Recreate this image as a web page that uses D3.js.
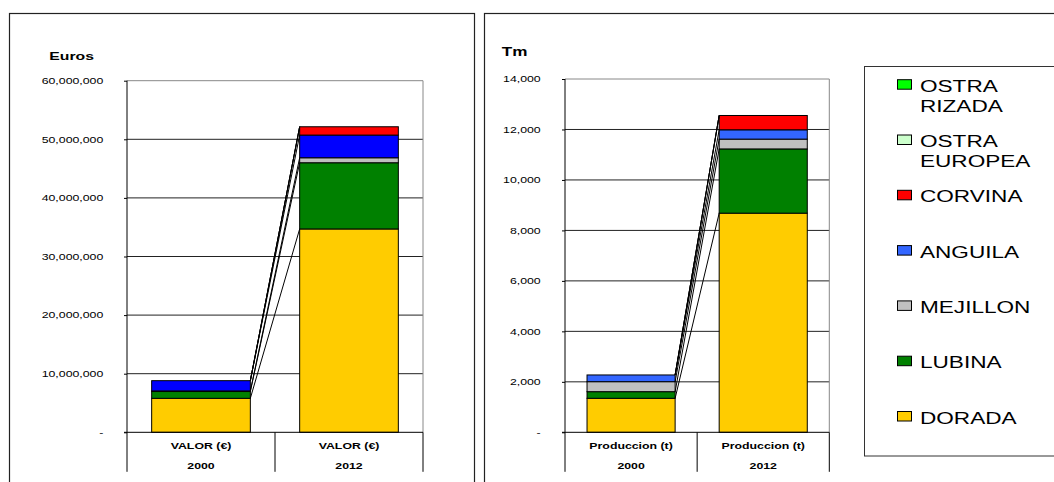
<!DOCTYPE html>
<html><head><meta charset="utf-8">
<script src="https://cdnjs.cloudflare.com/ajax/libs/d3/7.8.5/d3.min.js"></script>
<style>body{margin:0;background:#fff}svg{display:block}text{font-family:"Liberation Sans",Arial,sans-serif;fill:#000}</style>
</head><body><svg id="c" width="1054" height="482"></svg>
<script>
// ---- data ----
const years = ["2000", "2012"];
const series = ["DORADA", "LUBINA", "MEJILLON", "ANGUILA", "CORVINA", "OSTRA EUROPEA", "OSTRA RIZADA"];
// Euros, per series, [2000, 2012]
const valorDorada   = [5800000, 34700000];
const valorLubina   = [1160000, 11300000];
const valorMejillon = [100000, 850000];
const valorAnguila  = [1750000, 3870000];
const valorCorvina  = [0, 1420000];
const valorOstraEur = [0, 0];
const valorOstraRiz = [0, 0];
// Tm, per series, [2000, 2012]
const prodDorada   = [1348, 8684];
const prodLubina   = [262, 2545];
const prodMejillon = [396, 389];
const prodAnguila  = [266, 369];
const prodCorvina  = [0, 567];
const prodOstraEur = [0, 0];
const prodOstraRiz = [0, 0];
const valorTicks = [0, 10000000, 20000000, 30000000, 40000000, 50000000, 60000000];
const prodTicks = [0, 2000, 4000, 6000, 8000, 10000, 12000, 14000];
const valorCat = "VALOR (\u20AC)";
const prodCat = "Produccion (t)";
const legendLabels = [["OSTRA", "RIZADA"], ["OSTRA", "EUROPEA"], ["CORVINA"], ["ANGUILA"], ["MEJILLON"], ["LUBINA"], ["DORADA"]];

const colorsLeft  = ["#FFCC00", "#008000", "#C0C0C0", "#0000FF", "#FF0000", "#CCFFCC", "#00FF00"];
const colorsRight = ["#FFCC00", "#008000", "#C0C0C0", "#3366FF", "#FF0000", "#CCFFCC", "#00FF00"];

const SX = 1.37;
const svg = d3.select("#c");

function txt(g, x, y, s, size, weight, anchor) {
  return g.append("text").attr("transform", `translate(${x},${y}) scale(${SX},1)`)
    .attr("font-size", size).attr("font-weight", weight || "normal")
    .attr("text-anchor", anchor || "start").text(s);
}

// frames
svg.append("rect").attr("x", 9.5).attr("y", 13.5).attr("width", 465).attr("height", 500)
  .attr("fill", "none").attr("stroke", "#222").attr("stroke-width", 1.2);
svg.append("rect").attr("x", 484.5).attr("y", 13.5).attr("width", 600).attr("height", 500)
  .attr("fill", "none").attr("stroke", "#222").attr("stroke-width", 1.2);

function chart(cfg) {
  const {x0, x1, yTop, yBot, max, ticks, data, colors, cat, title, titleX, titleY, titleSize, labelGap} = cfg;
  const g = svg.append("g");
  const y = d3.scaleLinear().domain([0, max]).range([yBot, yTop]);
  const x = d3.scaleBand().domain(years).range([x0, x1]).paddingInner(1/3).paddingOuter(1/6);
  // gridlines
  g.selectAll("line.grid").data(ticks.filter(t => t > 0 && t < max)).join("line")
    .attr("x1", x0).attr("x2", x1).attr("y1", d => y(d)).attr("y2", d => y(d))
    .attr("stroke", "#222").attr("stroke-width", 1);
  // plot border top/right gray
  g.append("line").attr("x1", x0).attr("x2", x1).attr("y1", y(max)).attr("y2", y(max)).attr("stroke", "#888");
  g.append("line").attr("x1", x1).attr("x2", x1).attr("y1", y(max)).attr("y2", yBot).attr("stroke", "#888");
  // stack
  const rows = years.map((yr, i) => { const o = {year: yr}; series.forEach((s, k) => o[s] = data[k][i]); return o; });
  const stacked = d3.stack().keys(series)(rows);
  stacked.forEach((layer, k) => {
    g.selectAll(null).data(layer.filter(d => d[1] - d[0] > 0)).join("rect")
      .attr("x", d => x(d.data.year)).attr("width", x.bandwidth())
      .attr("y", d => y(d[1])).attr("height", d => y(d[0]) - y(d[1]))
      .attr("fill", colors[k]).attr("stroke", "#000").attr("stroke-width", 1);
  });
  // series lines
  stacked.forEach(layer => {
    g.append("line")
      .attr("x1", x(years[0]) + x.bandwidth()).attr("y1", y(layer[0][1]))
      .attr("x2", x(years[1])).attr("y2", y(layer[1][1]))
      .attr("stroke", "#000").attr("stroke-width", 1);
  });
  // value axis
  const ax = g.append("g").attr("transform", `translate(${x0},0)`)
    .call(d3.axisLeft(y).tickValues(ticks).tickSize(3).tickSizeOuter(0)
      .tickFormat(d => d === 0 ? "-" : d3.format(",")(d)));
  ax.select(".domain").remove();
  ax.selectAll(".tick line").attr("stroke", "#000");
  ax.selectAll(".tick text").attr("x", -labelGap / SX).attr("transform", `scale(${SX},1)`)
    .attr("font-size", 9).attr("font-family", "Liberation Sans, Arial, sans-serif").attr("fill", "#000");
  // left axis line extended
  g.append("line").attr("x1", x0).attr("x2", x0).attr("y1", y(max)).attr("y2", yBot + 39.5).attr("stroke", "#000");
  // category axis
  g.append("line").attr("x1", x0 - 3).attr("x2", x1).attr("y1", yBot).attr("y2", yBot).attr("stroke", "#000");
  [x0 + x.step(), x1].forEach(xx => g.append("line").attr("x1", xx).attr("x2", xx)
    .attr("y1", yBot).attr("y2", yBot + 39.5).attr("stroke", "#000"));
  years.forEach(yr => {
    const cx = x(yr) + x.bandwidth() / 2;
    txt(g, cx, yBot + 16.5, cat, 9, "bold", "middle");
    txt(g, cx, yBot + 36.5, yr, 9, "bold", "middle");
  });
  txt(g, titleX, titleY, title, titleSize, "bold", "start");
}

chart({x0: 127, x1: 423, yTop: 80.7, yBot: 432.3, max: 60000000, ticks: valorTicks,
  data: [valorDorada, valorLubina, valorMejillon, valorAnguila, valorCorvina, valorOstraEur, valorOstraRiz],
  colors: colorsLeft, cat: valorCat, title: "Euros", titleX: 49.3, titleY: 60.3, titleSize: 11.5, labelGap: 23.7});
chart({x0: 565, x1: 829.3, yTop: 79, yBot: 432.3, max: 14000, ticks: prodTicks,
  data: [prodDorada, prodLubina, prodMejillon, prodAnguila, prodCorvina, prodOstraEur, prodOstraRiz],
  colors: colorsRight, cat: prodCat, title: "Tm", titleX: 501.7, titleY: 55.7, titleSize: 12.5, labelGap: 24.3});

// legend
const lg = svg.append("g");
lg.append("rect").attr("x", 864.5).attr("y", 66.5).attr("width", 300).attr("height", 389.5)
  .attr("fill", "#fff").attr("stroke", "#333").attr("stroke-width", 1);
const legendColors = colorsRight.slice().reverse();
legendLabels.forEach((lines, i) => {
  const base = 91.7 + i * 55.3;
  lg.append("rect").attr("x", 897.5).attr("y", base - 12).attr("width", 14).attr("height", 9.5)
    .attr("fill", legendColors[i]).attr("stroke", "#000").attr("stroke-width", 1);
  lines.forEach((ln, j) => txt(lg, 920, base + j * 20, ln, 16.5, "normal", "start"));
});
</script></body></html>
